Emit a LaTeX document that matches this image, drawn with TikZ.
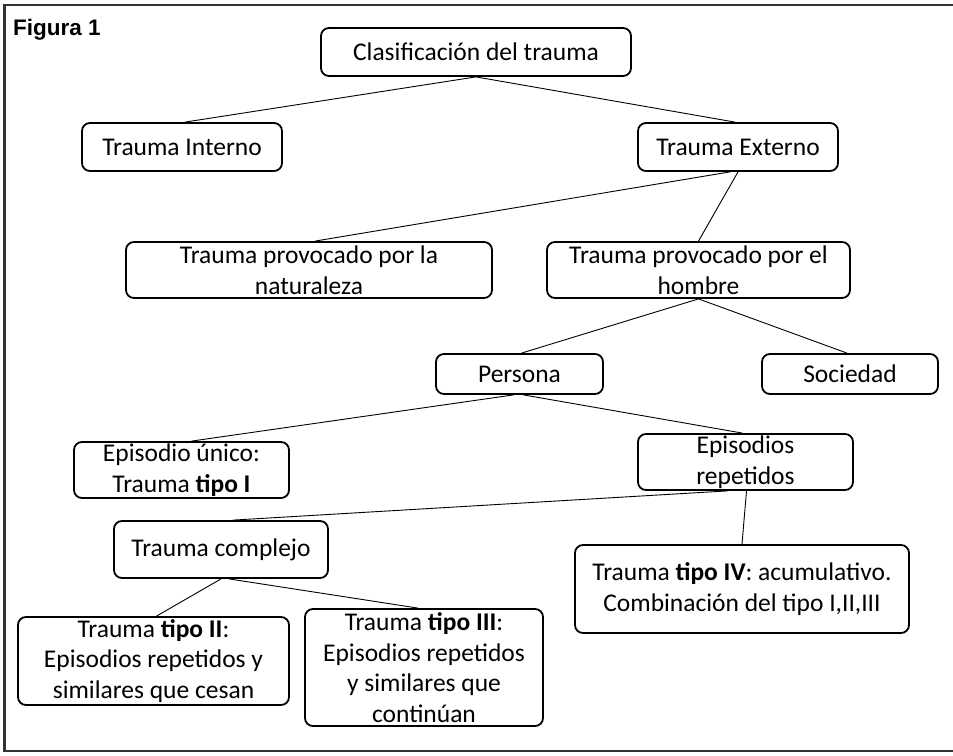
\documentclass[tikz,border=0pt]{standalone}
\usepackage{fontspec}
\setmainfont{Carlito}
\newfontfamily\figfont{Liberation Sans}
\begin{document}
\begin{tikzpicture}[x=1pt,y=-1pt,
  tbox/.style={draw=black,line width=1.8pt,rounded corners=8pt,align=center,inner sep=0pt,
    font=\fontsize{25.5}{30.5}\selectfont},
  conn/.style={draw=black,line width=0.9pt}]
\useasboundingbox (0,0) rectangle (953,755);
\draw[line width=2.4pt,draw=black!80] (960,5) -- (4.5,5) -- (4.5,751) -- (960,751);
\node[anchor=base west,inner sep=0pt,font=\figfont\bfseries\fontsize{22.5}{26}\selectfont] (fig) at (13,35) {Figura 1};

\node[tbox,minimum width=310,minimum height=48] (clas) at (476,52) {Clasificación del trauma};
\node[tbox,minimum width=200,minimum height=48] (int) at (182,147) {Trauma Interno};
\node[tbox,minimum width=200,minimum height=48] (ext) at (738,147) {Trauma Externo};
\node[tbox,minimum width=366,minimum height=56] (nat) at (309,270) {Trauma provocado por la\\naturaleza};
\node[tbox,minimum width=303,minimum height=56] (hom) at (698.5,270) {Trauma provocado por el\\hombre};
\node[tbox,minimum width=167,minimum height=40] (per) at (519.5,374) {Persona};
\node[tbox,minimum width=176,minimum height=40] (soc) at (850,374) {Sociedad};
\node[tbox,minimum width=215,minimum height=56] (uni) at (181.5,470) {Episodio único:\\Trauma \textbf{tipo I}};
\node[tbox,minimum width=215,minimum height=56] (rep) at (745.5,462) {Episodios\\repetidos};
\node[tbox,minimum width=214,minimum height=57] (com) at (221,549.5) {Trauma complejo};
\node[tbox,minimum width=334,minimum height=88] (iv) at (742,589) {Trauma \textbf{tipo IV}: acumulativo.\\Combinación del tipo I,II,III};
\node[tbox,minimum width=271,minimum height=88] (ii) at (153.5,661) {Trauma \textbf{tipo II}:\\Episodios repetidos y\\similares que cesan};
\node[tbox,minimum width=238,minimum height=117] (iii) at (424,667.5) {Trauma \textbf{tipo III}:\\Episodios repetidos\\y similares que\\continúan};

\draw[conn] (clas.south) -- ([xshift=3pt]int.north);
\draw[conn] (clas.south) -- ([xshift=-3pt]ext.north);
\draw[conn] ([xshift=-8pt]ext.south) -- ([xshift=6pt]nat.north);
\draw[conn] (ext.south) -- (hom.north);
\draw[conn] (hom.south) -- ([xshift=2pt]per.north);
\draw[conn] (hom.south) -- ([xshift=-3pt]soc.north);
\draw[conn] ([xshift=-6pt]per.south) -- ([xshift=10pt]uni.north);
\draw[conn] ([xshift=4pt]per.south) -- ([xshift=-3pt]rep.north);
\draw[conn] ([xshift=-18pt]rep.south) -- ([xshift=12pt]com.north);
\draw[conn] ([xshift=1pt]rep.south) -- (iv.north);
\draw[conn] (com.south) -- ([xshift=3pt]ii.north);
\draw[conn] ([xshift=8pt]com.south) -- ([xshift=-6pt]iii.north);
\end{tikzpicture}
\end{document}
